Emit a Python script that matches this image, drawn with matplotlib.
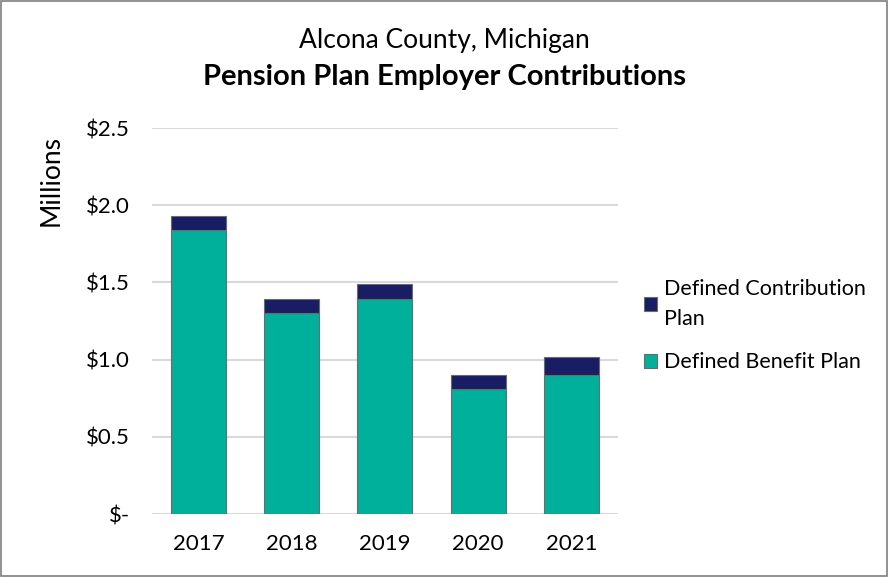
import matplotlib.pyplot as plt
from matplotlib.patches import Rectangle

years = ["2017", "2018", "2019", "2020", "2021"]
benefit = [1.84, 1.30, 1.39, 0.81, 0.90]
contribution = [0.09, 0.09, 0.10, 0.09, 0.12]
ticks = [0, 0.5, 1.0, 1.5, 2.0, 2.5]
tick_labels = ["$-", "$0.5", "$1.0", "$1.5", "$2.0", "$2.5"]

plt.rcParams['font.family'] = ['Lato', 'DejaVu Sans']

fig = plt.figure(figsize=(8.88, 5.77), dpi=100)
ax = fig.add_axes([0.171, 0.109, 0.525, 0.669])

x = range(len(years))
b1 = ax.bar(x, benefit, width=0.59, color="#00B09B", edgecolor="#6b6b6b",
            linewidth=0.8, label="Defined Benefit Plan", zorder=3)
b2 = ax.bar(x, contribution, width=0.59, bottom=benefit, color="#191D63",
            edgecolor="#6b6b6b", linewidth=0.8,
            label="Defined Contribution\nPlan", zorder=3)

ax.set_xlim(-0.5, 4.5)
ax.set_ylim(0, 2.5)
ax.set_xticks(list(x))
ax.set_xticklabels(years, fontsize=16)
ax.set_yticks(ticks)
ax.set_yticklabels(tick_labels, fontsize=16)
ax.tick_params(axis="y", length=0, pad=16)
ax.tick_params(axis="x", length=0, pad=14)
ax.yaxis.grid(True, color="#d9d9d9", linewidth=1.5, zorder=0)
for s in ax.spines.values():
    s.set_visible(False)
ax.set_ylabel("Millions", fontsize=19)
ax.yaxis.set_label_coords(-0.19, 0.865)

fig.text(0.5, 0.93, "Alcona County, Michigan", ha="center", va="center", fontsize=19)
fig.text(0.5, 0.866, "Pension Plan Employer Contributions", ha="center", va="center",
         fontsize=21, fontweight="bold")

leg = fig.legend(handles=[b2, b1], loc="upper left", bbox_to_anchor=(0.703, 0.55),
                 frameon=False, fontsize=15.5, handlelength=0.6, handleheight=0.6,
                 handletextpad=0.35, labelspacing=1.1)
leg.get_texts()[0].set_linespacing(1.6)

fig.patches.append(Rectangle((0.001, 0.001), 0.998, 0.998, transform=fig.transFigure,
                             fill=False, edgecolor="#7f7f7f", linewidth=1.2))

fig.savefig("out.png", dpi=100)
